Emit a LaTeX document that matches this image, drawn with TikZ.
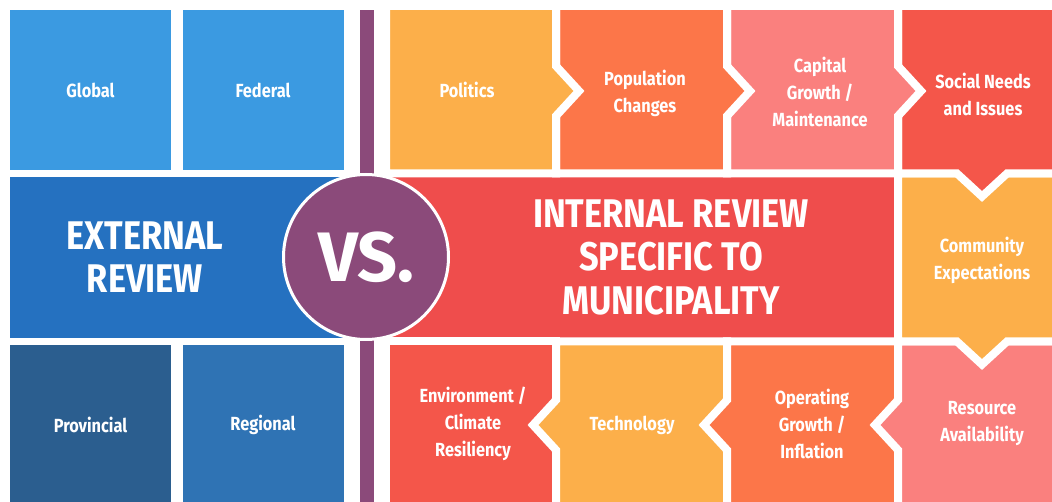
\documentclass[tikz,border=0pt]{standalone}
\usepackage{fontspec}
\setmainfont{Fira Sans}[FakeStretch=0.86]
\newfontfamily\vsfont{Fira Sans}
\definecolor{glblue}{HTML}{3B9AE1}
\definecolor{extblue}{HTML}{2571C0}
\definecolor{provblue}{HTML}{2B5E8F}
\definecolor{regblue}{HTML}{2F73B4}
\definecolor{vspurple}{HTML}{8B4A7A}
\definecolor{intred}{HTML}{EF4D4C}
\definecolor{yell}{HTML}{FCAF4A}
\definecolor{orng}{HTML}{FC7649}
\definecolor{pink}{HTML}{FA807E}
\definecolor{redd}{HTML}{F4564A}

\begin{document}
\begin{tikzpicture}[x=1pt,y=-1pt,
	lbl/.style={text=white,font=\bfseries\fontsize{19}{27}\selectfont,align=center},
	big/.style={text=white,font=\bfseries\fontsize{40}{43.5}\selectfont,align=center},
	tile/.style={draw=white,line width=8pt},
	bluebox/.style={lbl,minimum width=161pt,minimum height=160pt,inner sep=0pt}]
		\useasboundingbox (0,0) rectangle (1052,502);
		\clip (0,0) rectangle (1052,502);

		\node[bluebox,fill=glblue]	(glob)	at (90.5,90)	{Global};
		\node[bluebox,fill=glblue]	(fedl)	at (263,90)		{Federal};
		\node[bluebox,fill=provblue]	(prov)	at (90.5,425)	{Provincial};
		\node[bluebox,fill=regblue]	(regn)	at (263,425)	{Regional};

		\fill[extblue]	(10,177) rectangle (350,338);
		\fill[intred]	(382,177) rectangle (894,338);

		\filldraw[tile,fill=redd]	(386,341.5) -- (556,341.5) -- (556,506) -- (386,506) -- cycle;
		\filldraw[tile,fill=yell]	(556,341.5) -- (727,341.5) -- (727,506) -- (556,506) -- (556,450) -- (533,425) -- (556,400) -- cycle;
		\filldraw[tile,fill=orng]	(727,341.5) -- (898,341.5) -- (898,506) -- (727,506) -- (727,450) -- (704,425) -- (727,400) -- cycle;
		\filldraw[tile,fill=pink]	(898,341.5) -- (1066,341.5) -- (1066,506) -- (898,506) -- (898,450) -- (875,425) -- (898,400) -- cycle;
		\filldraw[tile,fill=yell]	(898,173.5) -- (1066,173.5) -- (1066,341.5) -- (1007,341.5) -- (982,364.5) -- (957,341.5) -- (898,341.5) -- cycle;
		\filldraw[tile,fill=redd]	(898,6) -- (1066,6) -- (1066,173.5) -- (1007,173.5) -- (982,196.5) -- (957,173.5) -- (898,173.5) -- cycle;
		\filldraw[tile,fill=pink]	(727,6) -- (898,6) -- (898,66) -- (921,91) -- (898,116) -- (898,173.5) -- (727,173.5) -- cycle;
		\filldraw[tile,fill=orng]	(556,6) -- (727,6) -- (727,66) -- (750,91) -- (727,116) -- (727,173.5) -- (556,173.5) -- cycle;
		\filldraw[tile,fill=yell]	(386,6) -- (556,6) -- (556,66) -- (579,91) -- (556,116) -- (556,173.5) -- (386,173.5) -- cycle;

		\fill[vspurple]	(360,10) rectangle (374,502);

		\node[big]	(extr)	at (145,257)	{EXTERNAL\\REVIEW};
		\node[big]	(intr)	at (671,257)	{INTERNAL REVIEW\\SPECIFIC TO\\MUNICIPALITY};
		\node[circle,fill=vspurple,draw=white,line width=3pt,minimum size=165pt,inner sep=0pt,
			text=white,font=\vsfont\bfseries\fontsize{70}{70}\selectfont]	(vs)	at (366,257)	{VS.};

		\node[lbl]	(polt)	at (467,90)		{Politics};
		\node[lbl]	(popc)	at (645,93)		{Population\\Changes};
		\node[lbl]	(capg)	at (820,92)		{Capital\\Growth /\\Maintenance};
		\node[lbl]	(socn)	at (983,94)		{Social Needs\\and Issues};
		\node[lbl]	(comx)	at (982,260)	{Community\\Expectations};
		\node[lbl]	(resa)	at (982,424)	{Resource\\Availability};
		\node[lbl]	(oprg)	at (812,424)	{Operating\\Growth /\\Inflation};
		\node[lbl]	(tech)	at (632,425)	{Technology};
		\node[lbl]	(envc)	at (473,424)	{Environment /\\Climate\\Resiliency};
	\end{tikzpicture}
\end{document}
